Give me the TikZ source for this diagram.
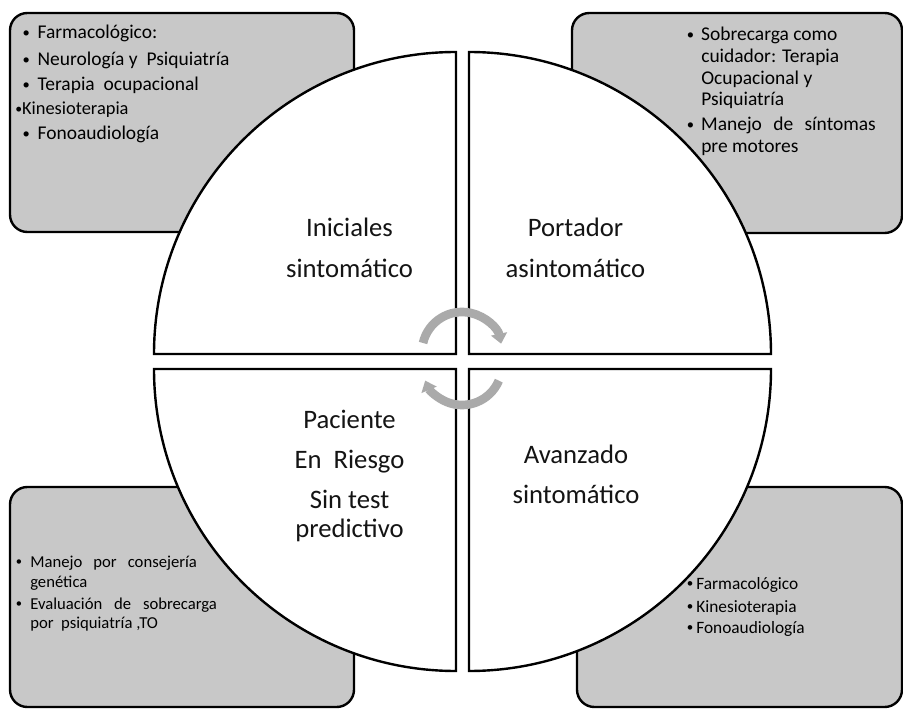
\documentclass[tikz,border=0pt]{standalone}
\usepackage{fontspec}
\usepackage{graphicx}
\setmainfont{Carlito}
\usetikzlibrary{arrows.meta}
\definecolor{panelgray}{RGB}{200,200,200}
\definecolor{turngray}{RGB}{170,170,170}
\newcommand\smalldot{\raisebox{0.09em}{\scalebox{0.75}{•}}}
\newcommand\lead[1]{\makebox[#1][c]{\smalldot}}
\begin{document}
\begin{tikzpicture}[x=0.75pt,y=0.75pt,
  panel/.style={draw=black, line width=1.8pt, fill=panelgray, rounded corners=13pt},
  quadrant/.style={draw=black, line width=1.8pt, fill=white},
  turn/.style={draw=turngray, line width=6.5pt, -{Triangle[length=7.5pt,width=12pt]}},
  stage/.style={inner sep=0pt, anchor=base, font=\fontsize{20}{24}\selectfont, text=black!92},
  itemA/.style={inner sep=0pt, anchor=base west, font=\fontsize{14.6}{17}\selectfont},
  itemB/.style={inner sep=0pt, anchor=base west, font=\fontsize{13}{15}\selectfont},
  itemC/.style={inner sep=0pt, anchor=base west, font=\fontsize{12.5}{15}\selectfont}]
\useasboundingbox (0,0) rectangle (903,708);
\fill[white] (0,0) rectangle (903,708);

% corner panels
\draw[panel] (10,476) rectangle (354,695);
\draw[panel] (572,475) rectangle (902,695);
\draw[panel] (10,1) rectangle (354,221);
\draw[panel] (577,1) rectangle (902,221);

% four quarter discs
\draw[quadrant] (456,354) -- (154,354) arc[start angle=180, end angle=90, radius=302] -- cycle;
\draw[quadrant] (469,354) -- (469,656) arc[start angle=90, end angle=0, radius=302] -- cycle;
\draw[quadrant] (456,339) -- (456,37) arc[start angle=270, end angle=180, radius=302] -- cycle;
\draw[quadrant] (469,339) -- (771,339) arc[start angle=0, end angle=-90, radius=302] -- cycle;

% turning arrows in the middle
\coordinate (hubtop) at (462,356);
\coordinate (hubbot) at (462,343);
\draw[turn] ([shift={(hubtop)}]167:40) arc[start angle=167, end angle=12, radius=40];
\draw[turn] ([shift={(hubbot)}]-23:40) arc[start angle=-23, end angle=-157, radius=40];

% stage labels
\node[stage] (s1a) at (349.5,471) {Iniciales};
\node[stage] (s1b) at (349.5,431) {sintomático};
\node[stage] (s2a) at (575.5,471) {Portador};
\node[stage] (s2b) at (575.5,431) {asintomático};
\node[stage] (s3a) at (349.5,280) {Paciente};
\node[stage] (s3b) at (349.5,240) {En\ \ Riesgo};
\node[stage] (s3c) at (349.5,200) {Sin test};
\node[stage] (s3d) at (349.5,171) {predictivo};
\node[stage] (s4a) at (576,245) {Avanzado};
\node[stage] (s4b) at (576,205) {sintomático};

% top left panel
\node[itemA] (tl1) at (14.7,669) {\lead{17pt}Farmacológico:};
\node[itemA] (tl2) at (14.7,642) {\lead{17pt}Neurología y\ \ Psiquiatría};
\node[itemA] (tl3) at (14.7,617) {\lead{17pt}Terapia\ \ ocupacional};
\node[itemB, font=\fontsize{13.8}{16}\selectfont] (tl4) at (15,593) {\smalldot Kinesioterapia};
\node[itemA] (tl5) at (14.7,568) {\lead{17pt}Fonoaudiología};

% top right panel
\node[itemA] (tr1) at (679.6,667) {\lead{16pt}Sobrecarga como};
\node[itemA] (tr2) at (701,645) {cuidador: Terapia};
\node[itemA] (tr3) at (701,623) {Ocupacional y};
\node[itemA] (tr4) at (701,602) {Psiquiatría};
\node[itemA] (tr5) at (679.6,577) {\lead{16pt}\makebox[131pt][s]{Manejo de síntomas}};
\node[itemA] (tr6) at (701,555) {pre motores};

% bottom left panel
\node[itemC] (bl1) at (7.4,141) {\lead{17pt}\makebox[125pt][s]{Manejo por consejería}};
\node[itemC] (bl2) at (30,121) {genética};
\node[itemC] (bl3) at (7.4,99) {\lead{17pt}\makebox[140pt][s]{Evaluación de sobrecarga}};
\node[itemC] (bl4) at (30,80) {por\ \ psiquiatría ,TO};

% bottom right panel
\node[itemB] (br1) at (683.4,119) {\lead{9.5pt}Farmacológico};
\node[itemB] (br2) at (683.4,96) {\lead{9.5pt}Kinesioterapia};
\node[itemB] (br3) at (683.4,75) {\lead{9.5pt}Fonoaudiología};
\end{tikzpicture}
\end{document}
